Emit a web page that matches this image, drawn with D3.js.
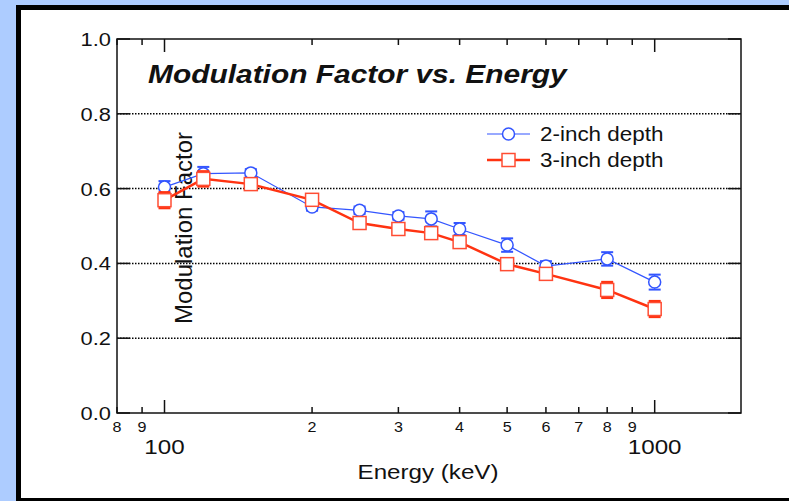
<!DOCTYPE html>
<html><head><meta charset="utf-8">
<script src="https://cdn.jsdelivr.net/npm/d3@7"></script>
<style>body{margin:0;background:#adccff;} svg{display:block;font-family:"Liberation Sans",Arial,sans-serif;}</style>
</head><body>
<svg id="c" width="789" height="501"></svg>
<script>
const energies = [100,120,150,200,250,300,350,400,500,600,800,1000];
const depth2 = [0.604,0.640,0.642,0.551,0.542,0.527,0.519,0.492,0.449,0.393,0.412,0.350];
const depth2Err = [0.016,0.018,0.010,0.010,0.010,0.010,0.020,0.016,0.018,0.013,0.018,0.020];
const depth3 = [0.569,0.626,0.612,0.570,0.508,0.492,0.481,0.457,0.398,0.372,0.329,0.278];
const depth3Err = [0.021,0.020,0.010,0.010,0.010,0.010,0.010,0.010,0.010,0.010,0.021,0.021];
const seriesNames = ["2-inch depth","3-inch depth"];
const yTicks = [0,0.2,0.4,0.6,0.8,1.0];
const xMinorTicks = [80,90,200,300,400,500,600,700,800,900];
const xMajorTicks = [100,1000];
const title = "Modulation Factor vs. Energy";
const xTitle = "Energy (keV)";
const yTitle = "Modulation Factor";

const svg = d3.select("#c");
const SX = 1.15; // horizontal stretch of the reference text
function stretch(sel){ sel.each(function(){ const L=this.getComputedTextLength(); d3.select(this).attr("textLength",L*SX).attr("lengthAdjust","spacingAndGlyphs"); }); }

svg.append("rect").attr("x",18.5).attr("y",7.5).attr("width",800).attr("height",493)
  .attr("fill","#fff").attr("stroke","#000").attr("stroke-width",5);

const L=117,R=741,T=39,B=413;
const x = d3.scaleLog().domain([80,1500]).range([L,R]);
const y = d3.scaleLinear().domain([0,1]).range([B,T]);

svg.append("g").selectAll("line").data(yTicks.filter(v=>v>0&&v<1)).join("line")
  .attr("x1",L).attr("x2",R).attr("y1",d=>y(d)).attr("y2",d=>y(d))
  .attr("stroke","#000").attr("stroke-width",1.5).attr("stroke-dasharray","1.5,1.5");

svg.append("rect").attr("x",L).attr("y",T).attr("width",R-L).attr("height",B-T)
  .attr("fill","none").attr("stroke","#111").attr("stroke-width",1.5);

const tk = svg.append("g").attr("stroke","#111").attr("stroke-width",1.5);
yTicks.forEach(v=>{
  tk.append("line").attr("x1",L).attr("x2",L+13).attr("y1",y(v)).attr("y2",y(v));
  tk.append("line").attr("x1",R-13).attr("x2",R).attr("y1",y(v)).attr("y2",y(v));
});
xMinorTicks.forEach(v=>{
  tk.append("line").attr("x1",x(v)).attr("x2",x(v)).attr("y1",B).attr("y2",B-6);
  tk.append("line").attr("x1",x(v)).attr("x2",x(v)).attr("y1",T).attr("y2",T+6);
});
xMajorTicks.forEach(v=>{
  tk.append("line").attr("x1",x(v)).attr("x2",x(v)).attr("y1",B).attr("y2",B-13);
  tk.append("line").attr("x1",x(v)).attr("x2",x(v)).attr("y1",T).attr("y2",T+13);
});

svg.append("g").selectAll("text").data(yTicks).join("text")
  .attr("x",111).attr("y",d=>y(d)+7).attr("text-anchor","end").attr("font-size",19).attr("fill","#111")
  .text(d=>d.toFixed(1)).call(stretch);
svg.append("g").selectAll("text").data(xMinorTicks).join("text")
  .attr("x",d=>x(d)).attr("y",432).attr("text-anchor","middle").attr("font-size",14).attr("fill","#111")
  .text(d=>String(d).charAt(0)).call(stretch);
svg.append("g").selectAll("text").data(xMajorTicks).join("text")
  .attr("x",d=>x(d)).attr("y",454).attr("text-anchor","middle").attr("font-size",21).attr("fill","#111")
  .text(d=>d).call(stretch);

svg.append("text").attr("x",428).attr("y",479).attr("text-anchor","middle").attr("font-size",21).attr("fill","#111").text(xTitle).call(stretch);
svg.append("text").attr("transform","translate(192,228) rotate(-90)").attr("text-anchor","middle").attr("font-size",24).attr("fill","#111").text(yTitle);
svg.append("text").attr("x",148).attr("y",83).attr("font-size",26).attr("font-weight","bold").attr("font-style","italic").attr("fill","#111").text(title).call(stretch);

const blue="#3355ff", red="#ff3311", redMk="#ff4d33";
function series(vals, errs, color, lw, capW, marker){
  const g = svg.append("g");
  const pts = energies.map((e,i)=>({e,v:vals[i],err:errs[i]}));
  g.append("path").datum(pts).attr("fill","none").attr("stroke",color).attr("stroke-width",lw)
    .attr("d",d3.line().x(d=>x(d.e)).y(d=>y(d.v)));
  const eb = g.append("g").attr("stroke",color);
  pts.forEach(d=>{
    eb.append("line").attr("x1",x(d.e)).attr("x2",x(d.e)).attr("y1",y(d.v-d.err)).attr("y2",y(d.v+d.err)).attr("stroke-width",1);
    [d.v-d.err,d.v+d.err].forEach(w=>eb.append("line").attr("x1",x(d.e)-6).attr("x2",x(d.e)+6).attr("y1",y(w)).attr("y2",y(w)).attr("stroke-width",capW));
  });
  pts.forEach(d=>marker(g,x(d.e),y(d.v)));
}
const circ=(g,cx,cy)=>g.append("circle").attr("cx",cx).attr("cy",cy).attr("r",6).attr("fill","#fff").attr("stroke",blue).attr("stroke-width",1.5);
const sq=(g,cx,cy)=>g.append("rect").attr("x",cx-6.5).attr("y",cy-6.5).attr("width",13).attr("height",13).attr("fill","#fff").attr("stroke",redMk).attr("stroke-width",1.5);
series(depth2, depth2Err, blue, 1.2, 2, circ);
series(depth3, depth3Err, red, 2.5, 2.5, sq);

const lg = svg.append("g");
[[blue,1.2,circ,134],[red,2.5,sq,160]].forEach((s,i)=>{
  lg.append("line").attr("x1",487).attr("x2",530).attr("y1",s[3]).attr("y2",s[3]).attr("stroke",s[0]).attr("stroke-width",s[1]);
  s[2](lg,508.5,s[3]);
  lg.append("text").attr("x",540).attr("y",s[3]+7).attr("font-size",19.5).attr("fill","#111").text(seriesNames[i]).call(stretch);
});
</script>
</body></html>
